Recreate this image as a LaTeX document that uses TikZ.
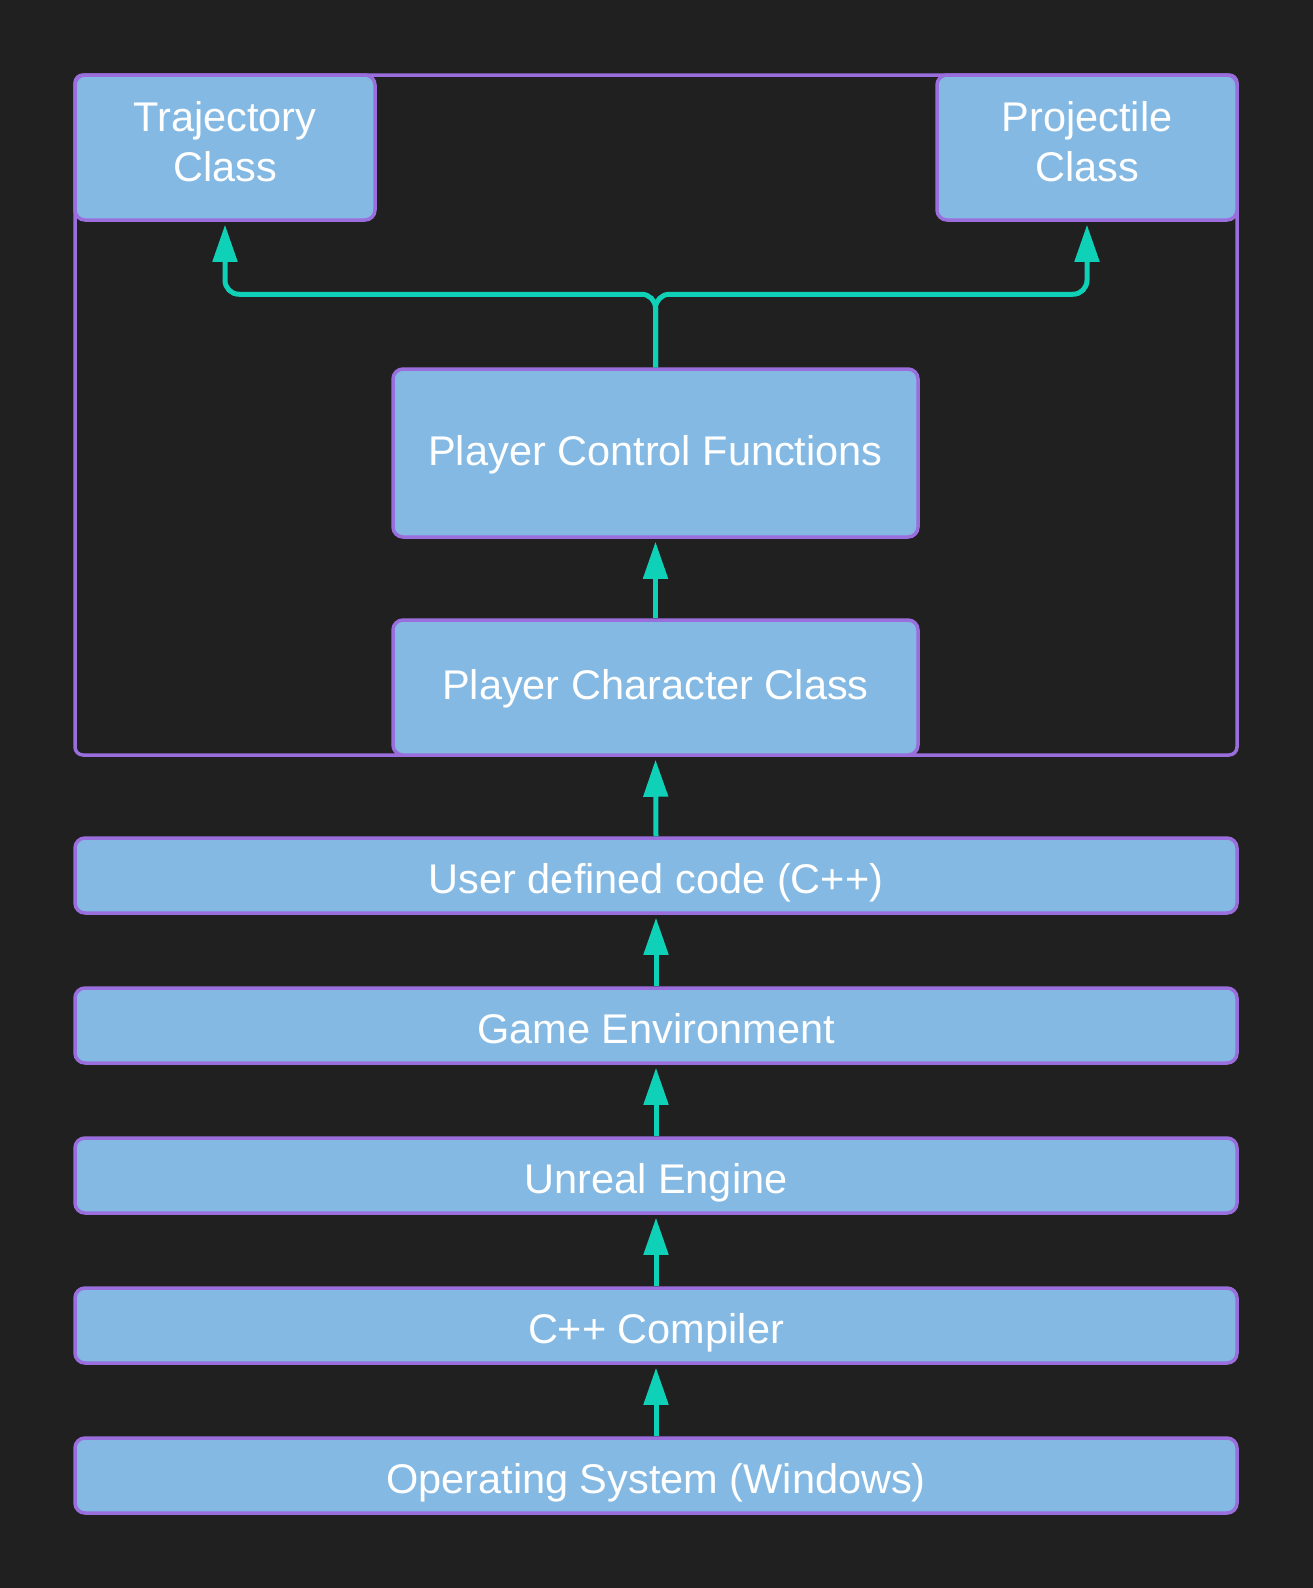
\documentclass[tikz,border=0pt]{standalone}
\usepackage{fontspec}
\setmainfont{Liberation Sans}
\usetikzlibrary{arrows.meta}
\definecolor{bgc}{HTML}{202020}
\definecolor{boxfill}{HTML}{84B9E3}
\definecolor{boxline}{HTML}{9A6FDD}
\definecolor{arrc}{HTML}{0FD1B7}
\begin{document}
\begin{tikzpicture}[x=1pt,y=-1pt,
  box/.style={draw=boxline, fill=boxfill, line width=3.5pt, rounded corners=10pt,
    text=white, align=center, inner sep=0pt, font=\fontsize{41.5}{50}\selectfont},
  wide/.style={box, minimum width=1162pt, minimum height=75pt, text height=40pt, text depth=4pt},
  small/.style={box, minimum width=300pt, minimum height=145pt, text depth=12pt},
  mid/.style={box, minimum width=525pt, text height=40pt, text depth=16pt},
  arr/.style={draw=arrc, line width=5pt, -{Triangle[length=37pt,width=24pt]}, shorten >=3pt},
]
\fill[bgc] (0,0) rectangle (1313,1588);
\useasboundingbox (0,0) rectangle (1313,1588);
\draw[boxline, line width=3.5pt, rounded corners=8pt] (75,75) rectangle (1237,755);
\node[small] (traj) at (225,147.5) {Trajectory\\Class};
\node[small] (proj) at (1087,147.5) {Projectile\\Class};
\node[mid, minimum height=168pt] (pcf) at (655.5,453) {Player Control Functions};
\node[mid, minimum height=135pt] (pcc) at (655.5,687.5) {Player Character Class};
\node[wide] (udc) at (656,875.5) {User defined code (C++)};
\node[wide] (ge) at (656,1025.5) {Game Environment};
\node[wide] (ue) at (656,1175.5) {Unreal Engine};
\node[wide] (cc) at (656,1325.5) {C++ Compiler};
\node[wide] (os) at (656,1475.5) {Operating System (Windows)};
\draw[arr, rounded corners=14pt] (pcf.north) -- ++(0,-73) -| (traj.south);
\draw[arr, rounded corners=14pt] (pcf.north) -- ++(0,-73) -| (proj.south);
\draw[arr] (pcc.north) -- (pcf.south);
\draw[arr] (udc.north) -- (pcc.south);
\draw[arr] (ge.north) -- (udc.south);
\draw[arr] (ue.north) -- (ge.south);
\draw[arr] (cc.north) -- (ue.south);
\draw[arr] (os.north) -- (cc.south);
\end{tikzpicture}
\end{document}
